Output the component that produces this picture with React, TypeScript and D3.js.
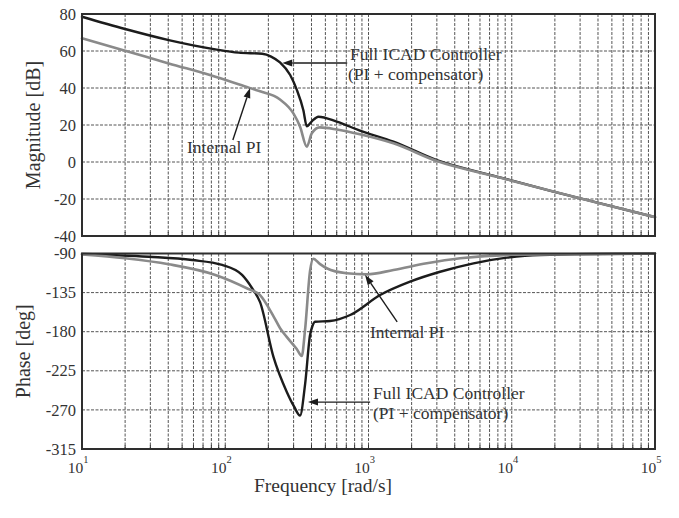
import React from "react";
import * as d3 from "d3";

// Bode plot: full ICAD controller vs internal PI
const W = 679;
const H = 518;

// Magnitude [dB] — full ICAD controller (PI + compensator)
const magFullFreq = [10, 20, 40.3, 85.3, 124, 181, 209, 241, 284, 316, 351, 371, 402, 447, 600, 871, 1493, 3000, 7870, 19540, 37150, 100000];
const magFullDb = [78.5, 71.9, 65.9, 60.9, 59.1, 58.5, 57, 53.8, 47, 39, 28, 19.3, 22, 24.5, 21.8, 17, 11, 1, -7.9, -16, -21.4, -29.8];

// Magnitude [dB] — internal PI
const magPiFreq = [10, 20, 40.3, 85.3, 146, 175, 241, 299, 333, 371, 402, 457, 600, 871, 1493, 3000, 7870, 19540, 37150, 100000];
const magPiDb = [66.9, 60.2, 53.3, 46.1, 40.2, 38.2, 33.8, 26.3, 19.1, 8.3, 15.5, 18.7, 17.6, 15, 10.1, 0.5, -8, -16, -21.5, -29.8];

// Phase [deg] — full ICAD controller
const phFullFreq = [10, 29.2, 58.6, 95.1, 131, 154, 175, 217, 268.5, 302, 332.7, 360.6, 390.8, 405, 423.6, 539.5, 744.7, 1205, 1950, 3162, 5408, 9247, 15780, 100000];
const phFullDeg = [-90.5, -93.7, -97.5, -103.2, -114.7, -130, -146, -209, -249, -266, -276.5, -241, -183.8, -174, -168.5, -167.7, -160.8, -137.8, -122.4, -111, -101.3, -94.8, -91.7, -90];

// Phase [deg] — internal PI
const phPiFreq = [10, 20, 40.3, 85.3, 141.3, 175, 216.8, 241.5, 268.5, 315.5, 342, 360.6, 390.8, 412.1, 457, 510.5, 704.7, 972.9, 1493, 2553, 4365, 10000, 100000];
const phPiDeg = [-91, -95.5, -102.4, -114.7, -130, -138, -162, -176, -186, -200, -208, -178, -110, -96, -102, -107, -112.8, -114, -109, -101.3, -95.5, -91.5, -90];

// Axis ticks
const magTicks = [80, 60, 40, 20, 0, -20, -40];
const phTicks = [-90, -135, -180, -225, -270, -315];
const decadeExps = [1, 2, 3, 4, 5];

const FONT = "'Liberation Serif', 'Times New Roman', serif";
const TEXT = "#333";
const GRID = "#555";
const DARK = "#1c1c1c";
const LIGHT = "#8a8a8a";

const L = 82;
const R = 655;
const MAG_TOP = 14;
const MAG_BOT = 236;
const PH_TOP = 253.5;
const PH_BOT = 449;

const x = d3.scaleLog().domain([10, 1e5]).range([L, R]);
const yMag = d3.scaleLinear().domain([-40, 80]).range([MAG_BOT, MAG_TOP]);
const yPh = d3.scaleLinear().domain([-315, -90]).range([PH_BOT, PH_TOP]);

function path(fs: number[], vs: number[], y: d3.ScaleLinear<number, number>) {
  const pts = fs.map((f, i) => [f, vs[i]] as [number, number]);
  return (
    d3
      .line<[number, number]>()
      .x((d) => x(d[0]))
      .y((d) => y(d[1]))
      .curve(d3.curveMonotoneX)(pts) || ""
  );
}

function Arrow({ x1, y1, x2, y2 }: { x1: number; y1: number; x2: number; y2: number }) {
  // shaft from (x1,y1) to the head tip (x2,y2)
  const ang = Math.atan2(y2 - y1, x2 - x1);
  const len = 10;
  const half = 3.5;
  const bx = x2 - len * Math.cos(ang);
  const by = y2 - len * Math.sin(ang);
  const px = -Math.sin(ang) * half;
  const py = Math.cos(ang) * half;
  return (
    <g>
      <line x1={x1} y1={y1} x2={bx} y2={by} stroke={DARK} strokeWidth={1.4} />
      <polygon points={`${x2},${y2} ${bx + px},${by + py} ${bx - px},${by - py}`} fill={DARK} />
    </g>
  );
}

function Panel({ top, bot, y, ticks }: { top: number; bot: number; y: d3.ScaleLinear<number, number>; ticks: number[] }) {
  const vTicks = x.ticks();
  return (
    <g>
      {vTicks.map((t, i) => (
        <line key={"v" + i} x1={x(t)} x2={x(t)} y1={top} y2={bot} stroke={GRID} strokeWidth={1} strokeDasharray="3,1.5" />
      ))}
      {ticks.map((t, i) => (
        <line key={"h" + i} x1={L} x2={R} y1={y(t)} y2={y(t)} stroke={GRID} strokeWidth={1} strokeDasharray="3,1.5" />
      ))}
      {vTicks.map((t, i) => (
        <line key={"tk" + i} x1={x(t)} x2={x(t)} y1={bot} y2={bot - 4} stroke="#333" strokeWidth={1} />
      ))}
      {ticks.map((t, i) => (
        <text key={"l" + i} x={76} y={y(t)} dy="0.34em" textAnchor="end" fontSize={16.5} fill={TEXT} fontFamily={FONT}>
          {t}
        </text>
      ))}
    </g>
  );
}

export default function App() {
  return (
    <svg width={W} height={H} style={{ position: "absolute", left: 0, top: 0, background: "#fff" }}>
      <rect x={0} y={0} width={W} height={H} fill="#fff" />
      <Panel top={MAG_TOP} bot={MAG_BOT} y={yMag} ticks={magTicks} />
      <Panel top={PH_TOP} bot={PH_BOT} y={yPh} ticks={phTicks} />

      <g fill="none" strokeLinejoin="round" strokeLinecap="round">
        <path d={path(magFullFreq, magFullDb, yMag)} stroke={DARK} strokeWidth={2.4} />
        <path d={path(magPiFreq, magPiDb, yMag)} stroke={LIGHT} strokeWidth={2.6} />
        <path d={path(phFullFreq, phFullDeg, yPh)} stroke={DARK} strokeWidth={2.4} />
        <path d={path(phPiFreq, phPiDeg, yPh)} stroke={LIGHT} strokeWidth={2.6} />
      </g>

      <rect x={L} y={MAG_TOP} width={R - L} height={MAG_BOT - MAG_TOP} fill="none" stroke="#2e2e2e" strokeWidth={2} />
      <rect x={L} y={PH_TOP} width={R - L} height={PH_BOT - PH_TOP} fill="none" stroke="#2e2e2e" strokeWidth={2} />

      {/* frequency decade labels */}
      {decadeExps.map((e) => (
        <text key={e} x={x(Math.pow(10, e))} y={473} fontSize={15.5} fill={TEXT} fontFamily={FONT} textAnchor="middle">
          <tspan dx={-4}>10</tspan>
          <tspan dy={-10} fontSize={10.5}>{e}</tspan>
        </text>
      ))}

      <text x={323} y={492} textAnchor="middle" fontSize={19.5} fill={TEXT} fontFamily={FONT}>
        Frequency [rad/s]
      </text>
      <text transform={`translate(40,${(MAG_TOP + MAG_BOT) / 2}) rotate(-90)`} textAnchor="middle" fontSize={20} fill={TEXT} fontFamily={FONT}>
        Magnitude [dB]
      </text>
      <text transform={`translate(30,${(PH_TOP + PH_BOT) / 2}) rotate(-90)`} textAnchor="middle" fontSize={20} fill={TEXT} fontFamily={FONT}>
        Phase [deg]
      </text>

      {/* annotations, magnitude panel */}
      <Arrow x1={x(710)} y1={yMag(53.5)} x2={x(250)} y2={yMag(53.5)} />
      <text x={350} y={60} fontSize={17.5} fill={TEXT} fontFamily={FONT}>Full ICAD Controller</text>
      <text x={348} y={80} fontSize={17.5} fill={TEXT} fontFamily={FONT}>(PI + compensator)</text>
      <Arrow x1={x(113)} y1={yMag(11.9)} x2={x(149)} y2={yMag(40)} />
      <text x={187} y={153} fontSize={17.5} fill={TEXT} fontFamily={FONT}>Internal PI</text>

      {/* annotations, phase panel */}
      <Arrow x1={x(1585)} y1={yPh(-168.8)} x2={x(946)} y2={yPh(-114.7)} />
      <text x={370} y={338} fontSize={17.5} fill={TEXT} fontFamily={FONT}>Internal PI</text>
      <Arrow x1={x(1026)} y1={yPh(-261)} x2={x(378)} y2={yPh(-261)} />
      <text x={373} y={399} fontSize={17.5} fill={TEXT} fontFamily={FONT}>Full ICAD Controller</text>
      <text x={373} y={419} fontSize={17.5} fill={TEXT} fontFamily={FONT}>(PI + compensator)</text>
    </svg>
  );
}
